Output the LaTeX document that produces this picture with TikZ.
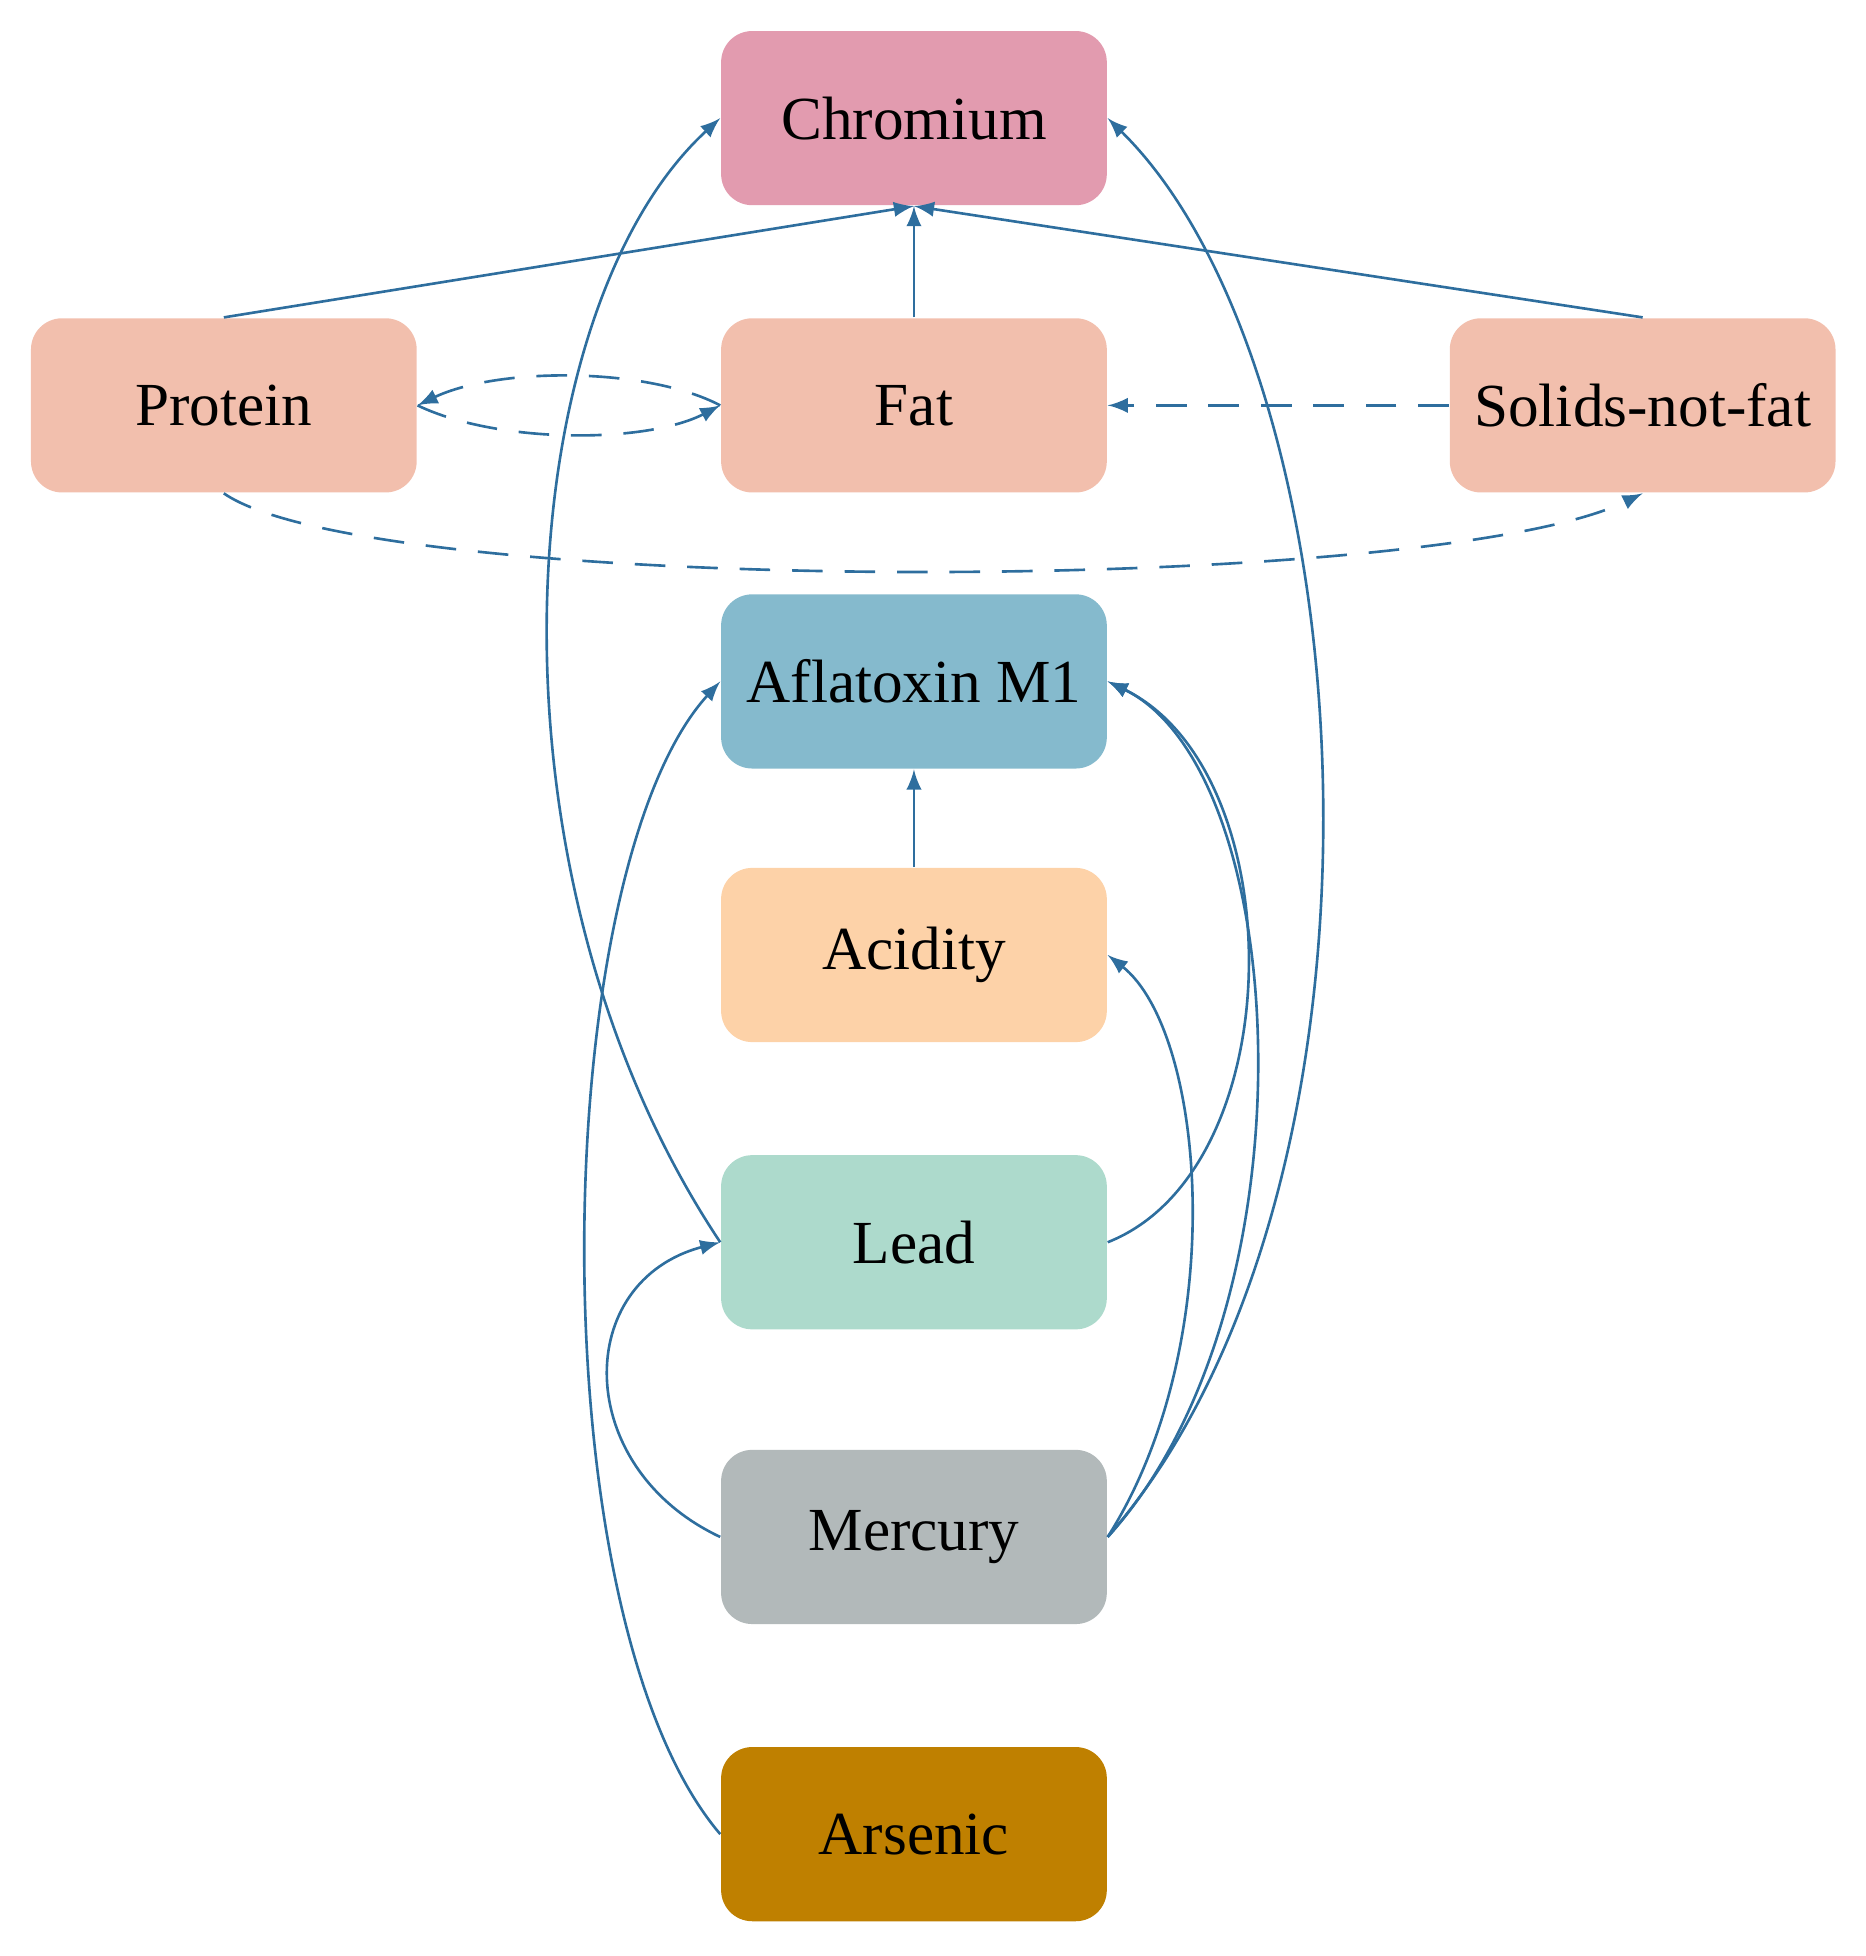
\documentclass[tikz,border=0pt]{standalone}
\usepackage{fontspec}
\setmainfont{Liberation Serif}
\begin{document}
\begin{tikzpicture}[x=0.01cm,y=-0.01cm,
 box/.style={draw=none,rounded corners=0.25cm,minimum width=3.1cm,minimum height=1.4cm,font=\fontsize{14}{16}\selectfont},
 e/.style={draw=ecol,line width=0.6pt,-latex},
 d/.style={e,dash pattern=on 7pt off 5pt}]
\definecolor{ecol}{HTML}{2E6E9E}
\useasboundingbox (0,0) rectangle (1500,1573);
\node[box,fill={rgb,255:red,226;green,155;blue,175}] (cr) at (735,95) {Chromium};
\node[box,fill={rgb,255:red,242;green,191;blue,173}] (pr) at (180,326) {Protein};
\node[box,fill={rgb,255:red,242;green,191;blue,173}] (fa) at (735,326) {Fat};
\node[box,fill={rgb,255:red,242;green,191;blue,173}] (sn) at (1321,326) {Solids-not-fat};
\node[box,fill={rgb,255:red,133;green,186;blue,205}] (af) at (735,548) {Aflatoxin M1};
\node[box,fill={rgb,255:red,253;green,210;blue,168}] (ac) at (735,768) {Acidity};
\node[box,fill={rgb,255:red,173;green,218;blue,204}] (le) at (735,999) {Lead};
\node[box,fill={rgb,255:red,178;green,185;blue,186}] (me) at (735,1236) {Mercury};
\node[box,fill={rgb,255:red,191;green,128;blue,0}] (ar) at (735,1475) {Arsenic};
\draw[e] (pr.north) -- (cr.south);
\draw[e] (fa.north) -- (cr.south);
\draw[e] (sn.north) -- (cr.south);
\draw[d] (fa.west) .. controls (520,295) and (400,295) .. (pr.east);
\draw[d] (pr.east) .. controls (400,357) and (520,357) .. (fa.west);
\draw[d] (sn.west) -- (fa.east);
\draw[d] (pr.south) .. controls (300,480) and (1150,480) .. (sn.south);
\draw[e] (ac.north) -- (af.south);
\draw[e] (le.west) .. controls (380,700) and (410,250) .. (cr.west);
\draw[e] (me.east) .. controls (1140,950) and (1100,300) .. (cr.east);
\draw[e] (le.east) .. controls (1040,940) and (1040,620) .. (af.east);
\draw[e] (me.east) .. controls (1060,1050) and (1040,620) .. (af.east);
\draw[e] (me.east) .. controls (990,1080) and (970,830) .. (ac.east);
\draw[e] (me.west) .. controls (460,1180) and (460,1030) .. (le.west);
\draw[e] (ar.west) .. controls (430,1300) and (440,700) .. (af.west);
\end{tikzpicture}
\end{document}
